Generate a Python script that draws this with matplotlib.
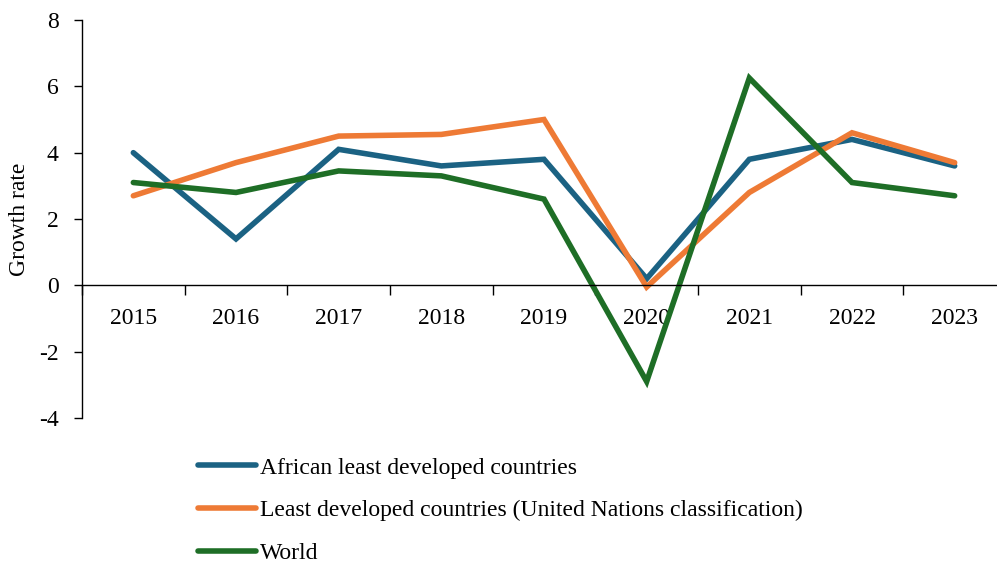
import matplotlib.pyplot as plt
import numpy as np

years = ['2015', '2016', '2017', '2018', '2019', '2020', '2021', '2022', '2023']
african_ldc = [4.0, 1.4, 4.1, 3.6, 3.8, 0.2, 3.8, 4.4, 3.6]
ldc_un = [2.7, 3.7, 4.5, 4.55, 5.0, -0.05, 2.8, 4.6, 3.7]
world = [3.1, 2.8, 3.45, 3.3, 2.6, -2.9, 6.25, 3.1, 2.7]

series_names = ['African least developed countries',
                'Least developed countries (United Nations classification)',
                'World']
colors = ['#1b6283', '#ee7a35', '#1e6e26']

plt.rcParams['font.family'] = ['Liberation Serif', 'DejaVu Serif']
plt.rcParams['axes.unicode_minus'] = False

fig = plt.figure(figsize=(9.97, 5.63), dpi=100)
# axes runs a little past the right edge of the figure
ax = fig.add_axes([82 / 997, 145 / 563, 924 / 997, 398 / 563])

x = np.arange(len(years))
for vals, name, col in zip([african_ldc, ldc_un, world], series_names, colors):
    ax.plot(x, vals, color=col, lw=4, label=name, solid_capstyle='round',
            solid_joinstyle='miter')

ax.set_xlim(-0.5, len(years) - 0.5)
ax.set_ylim(-4, 8)
ax.set_yticks([-4, -2, 0, 2, 4, 6, 8])
ax.tick_params(axis='y', labelsize=17, length=6, width=1, direction='out', pad=11)

ax.spines['top'].set_visible(False)
ax.spines['right'].set_visible(False)
ax.spines['bottom'].set_position(('data', 0))
ax.spines['left'].set_linewidth(1)
ax.spines['bottom'].set_linewidth(1)

# boundary ticks between years, labels in the middle
ax.set_xticks(np.arange(len(years) + 1) - 0.5)
ax.set_xticklabels([])
ax.tick_params(axis='x', which='major', length=7, width=1, direction='out')
ax.set_xticks(x, minor=True)
ax.set_xticklabels(years, minor=True)
ax.tick_params(axis='x', which='minor', length=0, labelsize=17, pad=16)

ax.set_ylabel('Growth rate', fontsize=17, labelpad=6)

ax.legend(loc='upper left', bbox_to_anchor=(198 / 997, 1 - 457 / 563),
          bbox_transform=fig.transFigure, frameon=False, fontsize=17,
          handlelength=2.45, handletextpad=0.17, labelspacing=0.9,
          borderaxespad=0, borderpad=0)

fig.savefig('out.png', dpi=100)
